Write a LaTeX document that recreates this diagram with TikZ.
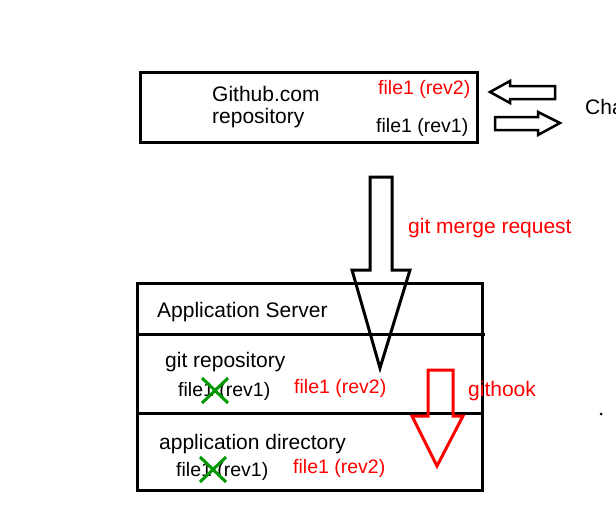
\documentclass[tikz,border=0pt]{standalone}
\usepackage{fontspec}
\setmainfont{Liberation Sans}
\begin{document}
\begin{tikzpicture}[x=1pt,y=-1pt,
 box/.style={draw=black,line width=3pt},
 lbl/.style={anchor=west,inner sep=0pt,font=\fontsize{21}{24}\selectfont},
 sm/.style={anchor=west,inner sep=0pt,font=\fontsize{19.5}{22}\selectfont},
 xmark/.style={draw=green!60!black,line width=3pt}]
\useasboundingbox[fill=white] (0,0) rectangle (616,514);
\draw[box] (140,72) rectangle (477,142);
\node[lbl] (gh1) at (212,94) {Github.com};
\node[lbl] (gh2) at (212,118) {repository};
\node[sm,text=red] (r2) at (378,89) {file1 (rev2)};
\node[sm] (r1) at (376,127) {file1 (rev1)};
\draw[line width=2.5pt,line join=miter] (490,92) -- (510,81) -- (510,86) -- (555,86) -- (555,99) -- (510,99) -- (510,103) -- cycle;
\draw[line width=2.5pt,line join=miter] (560,123) -- (538,112) -- (538,117) -- (495,117) -- (495,130) -- (538,130) -- (538,135) -- cycle;
\node[lbl] (cha) at (585,107) {Cha};
\draw[line width=3pt,line join=miter] (370,177) -- (392,177) -- (392,270) -- (410,270) -- (380,368) -- (352,270) -- (370,270) -- cycle;
\node[lbl,text=red] (gm) at (408,228) {git merge request};
\draw[box] (137,283) rectangle (482,490);
\draw[line width=3pt] (137,334) -- (485,334);
\draw[line width=3pt] (137,413) -- (482,413);
\node[lbl] (as) at (157,312) {Application Server};
\node[lbl] (gr) at (165,362) {git repository};
\node[sm] (f1) at (178,391) {file1 (rev1)};
\node[sm,text=red] (f2) at (294,388) {file1 (rev2)};
\node[lbl] (ad) at (159,444) {application directory};
\node[sm] (f3) at (176,471) {file1 (rev1)};
\node[sm,text=red] (f4) at (293,468) {file1 (rev2)};
\draw[xmark] (202,378) -- (228,403) (202,403) -- (228,378);
\draw[xmark] (200,457) -- (226,482) (200,482) -- (226,457);
\draw[red,line width=3pt,line join=miter] (428,370) -- (453,370) -- (453,416) -- (463,416) -- (437,466) -- (412,416) -- (428,416) -- cycle;
\node[lbl,text=red] (gk) at (468,391) {githook};
\fill (601,414) circle (1.5);
\end{tikzpicture}
\end{document}
